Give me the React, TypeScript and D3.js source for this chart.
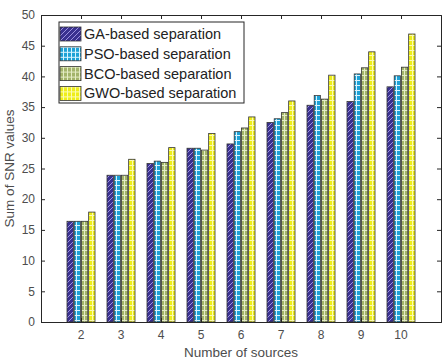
import React, { useRef, useEffect } from "react";
import * as d3 from "d3";

// number of sources on the x axis
const sources = [2, 3, 4, 5, 6, 7, 8, 9, 10];
const seriesNames = [
  "GA-based separation",
  "PSO-based separation",
  "BCO-based separation",
  "GWO-based separation",
];
// sum of SNR values per method, one entry per source count
const gaValues = [16.4, 23.9, 25.8, 28.3, 29.0, 32.5, 35.3, 35.9, 38.3];
const psoValues = [16.4, 23.9, 26.2, 28.3, 31.0, 33.1, 36.9, 40.4, 40.1];
const bcoValues = [16.4, 23.9, 26.0, 28.0, 31.6, 34.1, 36.3, 41.4, 41.5];
const gwoValues = [17.9, 26.5, 28.4, 30.7, 33.4, 36.0, 40.2, 44.0, 46.9];
const yTicks = [0, 5, 10, 15, 20, 25, 30, 35, 40, 45, 50];

const App: React.FC = () => {
  const ref = useRef<SVGSVGElement | null>(null);
  const width = 447;
  const height = 362;
  const margin = { top: 15, right: 6, bottom: 40, left: 41 };

  useEffect(() => {
    if (!ref.current) return;
    const svg = d3.select(ref.current);
    svg.selectAll("*").remove();

    const font = "Arial, 'Liberation Sans', sans-serif";
    const x = d3
      .scaleLinear()
      .domain([1, 11])
      .range([margin.left, width - margin.right]);
    const y = d3
      .scaleLinear()
      .domain([0, 50])
      .range([height - margin.bottom, margin.top]);

    // hatch / grid patterns, one per method
    const defs = svg.append("defs");
    const gaPat = defs
      .append("pattern")
      .attr("id", "pat-ga")
      .attr("patternUnits", "userSpaceOnUse")
      .attr("width", 5)
      .attr("height", 5);
    gaPat.append("rect").attr("width", 5).attr("height", 5).attr("fill", "#3a3190");
    gaPat
      .append("path")
      .attr("d", "M-1,6 L6,-1 M-1,1 L1,-1 M4,6 L6,4")
      .attr("stroke", "#9d92e0")
      .attr("stroke-width", 1);

    const gridPat = (id: string, fill: string, line: string) => {
      const p = defs
        .append("pattern")
        .attr("id", id)
        .attr("patternUnits", "userSpaceOnUse")
        .attr("width", 4)
        .attr("height", 5);
      p.append("rect").attr("width", 4).attr("height", 5).attr("fill", fill);
      p.append("path")
        .attr("d", "M0,0.5 L4,0.5 M0.5,0 L0.5,5")
        .attr("stroke", line)
        .attr("stroke-width", 1);
    };
    gridPat("pat-pso", "#1ea2d6", "#d8f4ff");
    gridPat("pat-bco", "#a3b46a", "#e4ecc4");
    gridPat("pat-gwo", "#eeee1a", "#fbfbb0");
    const fills = ["url(#pat-ga)", "url(#pat-pso)", "url(#pat-bco)", "url(#pat-gwo)"];

    const allSeries = [gaValues, psoValues, bcoValues, gwoValues];
    const inner = d3
      .scaleBand<number>()
      .domain([0, 1, 2, 3])
      .range([-14, 14])
      .paddingInner(0.12);

    // plot box
    svg
      .append("rect")
      .attr("x", x(1))
      .attr("y", y(50))
      .attr("width", x(11) - x(1))
      .attr("height", y(0) - y(50))
      .attr("fill", "white");

    // bars
    allSeries.forEach((vals, si) => {
      svg
        .append("g")
        .selectAll("rect")
        .data(vals)
        .enter()
        .append("rect")
        .attr("x", (_d, i) => x(sources[i]) + (inner(si) as number))
        .attr("y", (d) => y(d))
        .attr("width", inner.bandwidth())
        .attr("height", (d) => y(0) - y(d))
        .attr("fill", fills[si])
        .attr("stroke", "#333")
        .attr("stroke-width", 0.8);
    });

    // axes with inward ticks on all sides
    const tickColor = "#262626";
    const left = svg
      .append("g")
      .attr("transform", `translate(${x(1)},0)`)
      .call(d3.axisRight(y).tickValues(yTicks).tickSize(4).tickFormat(() => ""));
    const right = svg
      .append("g")
      .attr("transform", `translate(${x(11)},0)`)
      .call(d3.axisLeft(y).tickValues(yTicks).tickSize(4).tickFormat(() => ""));
    const bottom = svg
      .append("g")
      .attr("transform", `translate(0,${y(0)})`)
      .call(d3.axisTop(x).tickValues(sources).tickSize(4).tickFormat(() => ""));
    const top = svg
      .append("g")
      .attr("transform", `translate(0,${y(50)})`)
      .call(d3.axisBottom(x).tickValues(sources).tickSize(4).tickFormat(() => ""));
    [left, right, bottom, top].forEach((g) => {
      g.selectAll("line").attr("stroke", tickColor);
      g.select(".domain").attr("stroke", tickColor).attr("stroke-width", 1);
    });

    // tick labels
    const labelColor = "#4d4d4d";
    svg
      .append("g")
      .selectAll("text")
      .data(yTicks)
      .enter()
      .append("text")
      .attr("x", x(1) - 6)
      .attr("y", (d) => y(d))
      .attr("dy", "0.35em")
      .attr("text-anchor", "end")
      .attr("font-family", font)
      .attr("font-size", 12)
      .attr("fill", labelColor)
      .text((d) => d);
    svg
      .append("g")
      .selectAll("text")
      .data(sources)
      .enter()
      .append("text")
      .attr("x", (d) => x(d))
      .attr("y", y(0) + 17)
      .attr("text-anchor", "middle")
      .attr("font-family", font)
      .attr("font-size", 12)
      .attr("fill", labelColor)
      .text((d) => d);

    // axis titles
    svg
      .append("text")
      .attr("x", (x(1) + x(11)) / 2)
      .attr("y", height - 5)
      .attr("text-anchor", "middle")
      .attr("font-family", font)
      .attr("font-size", 13.5)
      .attr("fill", labelColor)
      .text("Number of sources");
    svg
      .append("text")
      .attr("transform", `translate(14,${(y(0) + y(50)) / 2}) rotate(-90)`)
      .attr("text-anchor", "middle")
      .attr("font-family", font)
      .attr("font-size", 13.5)
      .attr("fill", labelColor)
      .text("Sum of SNR values");

    // legend
    const lg = svg.append("g").attr("transform", "translate(59,22)");
    lg.append("rect")
      .attr("width", 185)
      .attr("height", 81)
      .attr("fill", "white")
      .attr("stroke", "#262626")
      .attr("stroke-width", 1);
    seriesNames.forEach((name, i) => {
      const row = lg.append("g").attr("transform", `translate(0,${5 + i * 19.8})`);
      row
        .append("rect")
        .attr("x", 1)
        .attr("y", 0)
        .attr("width", 21)
        .attr("height", 14)
        .attr("fill", fills[i])
        .attr("stroke", "#333")
        .attr("stroke-width", 0.8);
      row
        .append("text")
        .attr("x", 25)
        .attr("y", 7)
        .attr("dy", "0.35em")
        .attr("font-family", font)
        .attr("font-size", 14.5)
        .attr("fill", "#222")
        .text(name);
    });
  }, []);

  return (
    <svg
      ref={ref}
      width={width}
      height={height}
      style={{ position: "absolute", left: 0, top: 0, background: "white" }}
    />
  );
};

export default App;
